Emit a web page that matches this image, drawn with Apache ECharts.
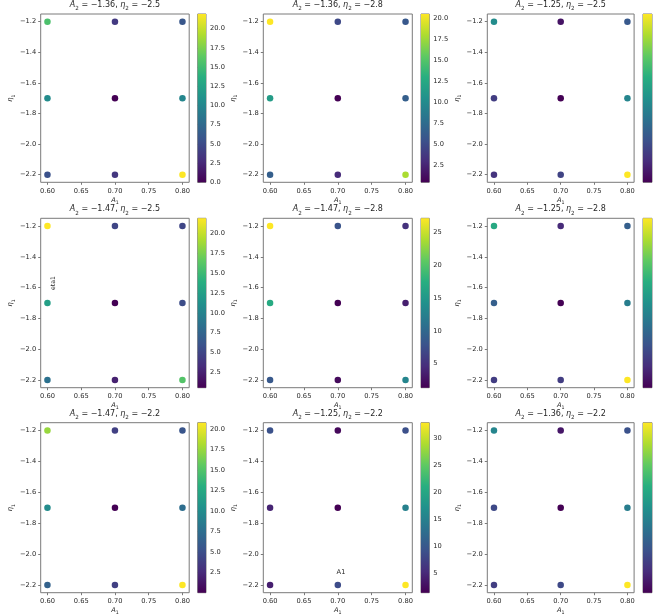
<!DOCTYPE html>
<html>
<head>
<meta charset="utf-8">
<script src="https://cdn.jsdelivr.net/npm/echarts@6/dist/echarts.min.js"></script>
<style>
html,body{margin:0;padding:0;background:#fff;}
#c{width:656px;height:616px;}
</style>
</head>
<body>
<div id="c"></div>
<script>
// ---------- DATA ----------
const xValues = [0.6, 0.7, 0.8];
const yValues = [-1.2, -1.7, -2.2];
const xTicks = [0.60, 0.65, 0.70, 0.75, 0.80];
const yTicks = [-2.2, -2.0, -1.8, -1.6, -1.4, -1.2];

const panelA2 = ['−1.36', '−1.36', '−1.25', '−1.47', '−1.47', '−1.25', '−1.47', '−1.25', '−1.36'];
const panelEta2 = ['−2.5', '−2.8', '−2.5', '−2.5', '−2.8', '−2.8', '−2.2', '−2.2', '−2.2'];

// values: rows follow yValues, columns follow xValues
const panel1 = [[15.5, 3.7, 5.9], [10.5, 0.0, 10.0], [5.5, 3.5, 21.9]];
const panel2 = [[20.56, 4.9, 6.0], [11.5, 0.48, 6.5], [6.5, 2.9, 18.0]];
const panel3 = [[6.9, 0.93, 4.1], [2.7, 0.24, 6.5], [2.3, 3.0, 14.1]];
const panel4 = [[21.9, 5.0, 5.0], [12.5, 0.56, 5.5], [8.5, 2.5, 16.0]];
const panel5 = [[27.2, 8.0, 5.0], [17.0, 1.3, 3.5], [8.5, 2.0, 13.0]];
const panel6 = [[14.6, 3.3, 7.55], [7.55, 0.5, 10.4], [4.7, 4.7, 24.0]];
const panel7 = [[17.5, 4.0, 5.5], [10.0, 0.05, 7.5], [6.5, 4.0, 20.8]];
const panel8 = [[9.2, 2.0, 9.0], [4.4, 1.3, 15.0], [4.0, 8.6, 32.9]];
const panel9 = [[11.96, 1.85, 6.8], [6.0, 0.3, 11.2], [5.0, 6.0, 26.2]];

const cbarTicks1 = [0, 2.5, 5, 7.5, 10, 12.5, 15, 17.5, 20];
const cbarTicks2 = [2.5, 5, 7.5, 10, 12.5, 15, 17.5, 20];
const cbarTicks3 = [2.5, 5, 7.5, 10, 12.5];
const cbarTicks4 = [2.5, 5, 7.5, 10, 12.5, 15, 17.5, 20];
const cbarTicks5 = [5, 10, 15, 20, 25];
const cbarTicks6 = [5, 10, 15, 20];
const cbarTicks7 = [2.5, 5, 7.5, 10, 12.5, 15, 17.5, 20];
const cbarTicks8 = [5, 10, 15, 20, 25, 30];
const cbarTicks9 = [5, 10, 15, 20, 25];

const strayLabel1 = 'eta1';
const strayLabel2 = 'A1';

// ---------- BUILD ----------
const panels = [panel1, panel2, panel3, panel4, panel5, panel6, panel7, panel8, panel9];
const cbarTicks = [cbarTicks1, cbarTicks2, cbarTicks3, cbarTicks4, cbarTicks5, cbarTicks6, cbarTicks7, cbarTicks8, cbarTicks9];

const viridis = ['#440154', '#472d7b', '#3b528b', '#2c728e', '#21918c', '#28ae80', '#5ec962', '#addc30', '#fde725'];

const colLeft = [40.7, 263.3, 487.3];
const colWidth = [148.5, 149, 146.8];
const cbLeft = [197.7, 421, 643];
const cbWidth = [8.3, 8.3, 9];
const rowTop = [14, 218.3, 422.7];
const rowHeight = [168.3, 169.4, 170];

const FONT = 'DejaVu Sans';
const TXT = '#262626';
const LINE = '#7a7a7a';
const TICK_FS = 6.7;

const fmtMinus = s => s.replace('-', '−');

const grids = [], xAxes = [], yAxes = [], series = [], visualMaps = [], titles = [];

function mathRich(fs, lh) {
  return {
    i: {fontFamily: FONT, fontStyle: 'italic', fontWeight: 'normal', fontSize: fs, color: TXT, lineHeight: lh, verticalAlign: 'top'},
    n: {fontFamily: FONT, fontWeight: 'normal', fontSize: fs, color: TXT, lineHeight: lh, verticalAlign: 'top'},
    s: {fontFamily: FONT, fontWeight: 'normal', fontSize: fs * 0.7, color: TXT, lineHeight: Math.round(fs * 0.7), verticalAlign: 'bottom'}
  };
}

panels.forEach((vals, k) => {
  const r = Math.floor(k / 3), c = k % 3;
  const flat = [].concat(...vals);
  const vmin = Math.min(...flat), vmax = Math.max(...flat);

  // main plot grid
  const gi = grids.length;
  grids.push({left: colLeft[c], top: rowTop[r], width: colWidth[c], height: rowHeight[r],
    show: true, borderColor: LINE, borderWidth: 1, backgroundColor: '#fff',
    containLabel: false, outerBoundsMode: 'none'});
  xAxes.push({
    gridIndex: gi, type: 'value', min: 0.59, max: 0.81,
    name: '{i|A}{s|1}', nameLocation: 'middle', nameGap: 14,
    nameTextStyle: {rich: mathRich(TICK_FS, 9)},
    axisLine: {show: false},
    axisTick: {show: true, length: 2.5, lineStyle: {color: LINE}, customValues: xTicks},
    axisLabel: {show: true, customValues: xTicks, fontFamily: FONT, fontSize: TICK_FS, color: TXT, margin: 5,
      formatter: v => v.toFixed(2)},
    splitLine: {show: false}
  });
  yAxes.push({
    gridIndex: gi, type: 'value', min: -2.25, max: -1.15,
    name: '{i|η}{s|1}', nameLocation: 'middle', nameGap: 23, nameRotate: 90,
    nameTextStyle: {rich: mathRich(TICK_FS, 9)},
    axisLine: {show: false},
    axisTick: {show: true, length: 2.5, lineStyle: {color: LINE}, customValues: yTicks},
    axisLabel: {show: true, customValues: yTicks, fontFamily: FONT, fontSize: TICK_FS, color: TXT, margin: 4.5,
      formatter: v => fmtMinus(v.toFixed(1))},
    splitLine: {show: false}
  });
  const data = [];
  yValues.forEach((yv, i) => xValues.forEach((xv, j) => data.push([xv, yv, vals[i][j]])));
  const si = series.length;
  series.push({type: 'scatter', xAxisIndex: gi, yAxisIndex: gi, symbolSize: 6.5, data: data,
    itemStyle: {opacity: 1}});
  visualMaps.push({type: 'continuous', show: false, seriesIndex: si, dimension: 2,
    min: vmin, max: vmax, inRange: {color: viridis}});

  titles.push({
    text: '{i|A}{s|2}{n| = ' + panelA2[k] + ', }{i|η}{s|2}{n| = ' + panelEta2[k] + '}',
    left: colLeft[c] + colWidth[c] / 2, top: rowTop[r] - 13, textAlign: 'center',
    padding: 0,
    textStyle: {fontWeight: 'normal', rich: mathRich(8, 11)}
  });

  // colorbar grid
  const ci = grids.length;
  grids.push({left: cbLeft[c], top: rowTop[r], width: cbWidth[c], height: rowHeight[r],
    show: true, borderColor: LINE, borderWidth: 1,
    containLabel: false, outerBoundsMode: 'none'});
  xAxes.push({gridIndex: ci, type: 'value', min: 0, max: 1, show: false});
  const ticks = cbarTicks[k];
  const step = ticks.length > 1 ? ticks[1] - ticks[0] : 1;
  yAxes.push({
    gridIndex: ci, type: 'value', min: vmin, max: vmax, position: 'right',
    axisLine: {show: false},
    axisTick: {show: true, length: 2.5, lineStyle: {color: LINE}, customValues: ticks},
    axisLabel: {show: true, customValues: ticks, fontFamily: FONT, fontSize: TICK_FS, color: TXT, margin: 4,
      formatter: v => Number.isInteger(step) ? String(Math.round(v)) : v.toFixed(1)},
    splitLine: {show: false}
  });
  series.push({
    type: 'custom', xAxisIndex: ci, yAxisIndex: ci, silent: true,
    data: [[0, vmin, 1, vmax]],
    encode: {x: [0, 2], y: [1, 3]},
    renderItem: function (params, api) {
      const p0 = api.coord([api.value(0), api.value(1)]);
      const p1 = api.coord([api.value(2), api.value(3)]);
      const stops = viridis.map((col, idx) => ({offset: idx / (viridis.length - 1), color: col}));
      return {
        type: 'rect',
        shape: {x: p0[0], y: p1[1], width: p1[0] - p0[0], height: p0[1] - p1[1]},
        style: {fill: new echarts.graphic.LinearGradient(0, 1, 0, 0, stops)}
      };
    }
  });
});

const chart = echarts.init(document.getElementById('c'), null, {renderer: 'canvas'});
chart.setOption({
  backgroundColor: '#fff',
  animation: false,
  title: titles,
  grid: grids,
  xAxis: xAxes,
  yAxis: yAxes,
  visualMap: visualMaps,
  series: series,
  graphic: [
    {type: 'text', x: 53, y: 283, rotation: Math.PI / 2,
      style: {text: strayLabel1, fontFamily: FONT, fontSize: 6.2, fill: TXT, align: 'center', verticalAlign: 'middle'}},
    {type: 'text', x: 341, y: 572,
      style: {text: strayLabel2, fontFamily: FONT, fontSize: TICK_FS, fill: TXT, align: 'center', verticalAlign: 'middle'}}
  ]
});
</script>
</body>
</html>
